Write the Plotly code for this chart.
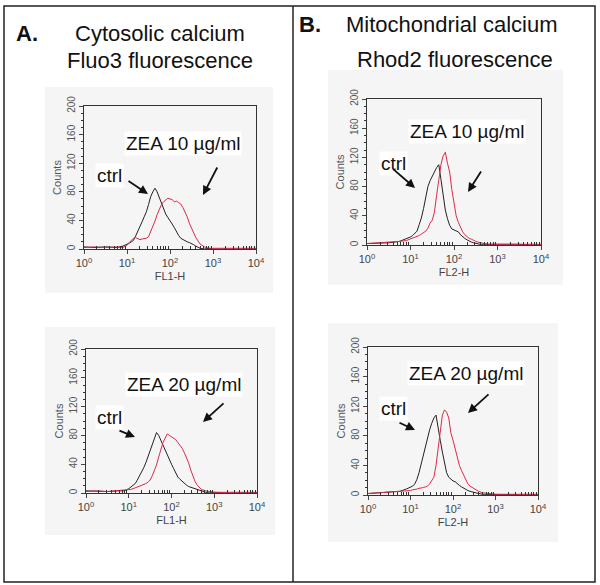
import plotly.graph_objects as go

W, H = 600, 585

# Fluorescence bins (log10 of FL intensity)
fl_exp = [0.0, 0.25, 0.5, 0.75, 0.9,
          1.0, 1.05, 1.1, 1.15, 1.2, 1.25, 1.3, 1.35, 1.4, 1.45, 1.5, 1.55, 1.6, 1.65, 1.7,
          1.75, 1.8, 1.85, 1.9, 1.95, 2.0, 2.05, 2.1, 2.15, 2.2, 2.25, 2.3, 2.35, 2.4, 2.45,
          2.5, 2.55, 2.6,
          2.7, 2.8, 2.9, 3.0, 3.25, 3.5, 3.75, 4.0]

# Panel A top: Fluo3, ZEA 10 ug/ml
a1_ctrl = [3, 2, 3, 2, 4,
           6, 8, 10, 12, 18, 24, 32, 38, 45, 52, 62, 73, 80, 85, 80,
           72, 63, 56, 49, 44, 40, 35, 30, 24, 19, 15, 13, 11, 10, 9,
           8, 6, 4,
           1, 0, 1, 0, 0, 1, 0, 0]
a1_zea = [2, 3, 2, 3, 2,
          5, 9, 12, 15, 16, 14, 13, 14, 14, 15, 17, 24, 32, 39, 48,
          56, 62, 66, 68, 71, 70, 69, 66, 67, 65, 63, 58, 52, 45, 36,
          29, 23, 16,
          7, 3, 1, 1, 1, 1, 1, 1]
# Panel B top: Rhod2, ZEA 10 ug/ml
b1_ctrl = [2, 2, 3, 5, 8,
           11, 13, 16, 19, 28, 37, 50, 65, 80, 88, 95, 100, 106, 110, 90,
           70, 48, 36, 27, 22, 21, 20, 18, 14, 11, 9, 7, 5, 4, 3,
           2, 2, 1,
           1, 1, 2, 1, 1, 1, 0, 0]
b1_zea = [2, 3, 3, 5, 6,
          8, 9, 10, 11, 13, 15, 17, 19, 23, 30, 34, 45, 68, 90, 110,
          122, 127, 112, 100, 76, 56, 40, 31, 24, 18, 14, 11, 9, 8, 6,
          5, 4, 3,
          2, 1, 1, 1, 1, 1, 1, 1]
# Panel A bottom: Fluo3, ZEA 20 ug/ml
a2_ctrl = [3, 2, 2, 3, 3,
           6, 8, 10, 13, 18, 23, 28, 35, 42, 50, 58, 67, 76, 84, 80,
           73, 67, 60, 52, 46, 40, 34, 27, 22, 19, 16, 13, 11, 9, 8,
           7, 5, 4,
           2, 1, 0, 1, 0, 0, 1, 0]
a2_zea = [2, 3, 2, 3, 4,
          4, 5, 6, 7, 8, 9, 10, 12, 13, 15, 18, 24, 31, 39, 50,
          60, 70, 76, 82, 80, 78, 76, 74, 70, 66, 62, 56, 50, 42, 32,
          23, 16, 11,
          5, 3, 2, 1, 1, 1, 1, 1]
# Panel B bottom: Rhod2, ZEA 20 ug/ml
b2_ctrl = [2, 3, 3, 5, 8,
           10, 12, 15, 21, 30, 42, 54, 66, 78, 88, 97, 104, 108, 88, 74,
           58, 42, 30, 24, 21, 19, 18, 15, 13, 11, 9, 7, 6, 5, 4,
           3, 2, 2,
           1, 1, 1, 0, 1, 0, 0, 0]
b2_zea = [2, 3, 3, 4, 5,
          6, 7, 7, 8, 9, 9, 10, 11, 12, 15, 19, 24, 40, 61, 88,
          108, 115, 112, 104, 84, 74, 62, 50, 40, 33, 27, 20, 15, 12, 10,
          8, 6, 5,
          3, 2, 1, 1, 1, 1, 1, 1]

x_tick_vals = [1, 10, 100, 1000, 10000]
x_tick_text = ["10<sup>0</sup>", "10<sup>1</sup>", "10<sup>2</sup>", "10<sup>3</sup>", "10<sup>4</sup>"]
x_minor_vals = [m * d for d in [1, 10, 100, 1000] for m in range(2, 10)]
y_tick_vals = [0, 40, 80, 120, 160, 200]
y_minor_vals = list(range(0, 201, 10))

fl = [10 ** e for e in fl_exp]

panels = [
    # (axis suffix, ctrl, zea, x label, axes box px (x0, x1, ytop, ybottom))
    ("", a1_ctrl, a1_zea, "FL1-H", (84, 256, 106, 249)),
    ("2", b1_ctrl, b1_zea, "FL2-H", (367, 541, 99, 245)),
    ("3", a2_ctrl, a2_zea, "FL1-H", (86, 257, 349, 493)),
    ("4", b2_ctrl, b2_zea, "FL2-H", (368, 538, 347, 495)),
]

fig = go.Figure()
layout = dict(width=W, height=H, margin=dict(l=0, r=0, t=0, b=0, pad=0), autosize=False,
              paper_bgcolor="white", plot_bgcolor="#fdfdfd", showlegend=False,
              font=dict(family="Liberation Sans, Arial, sans-serif", color="#111"))

for suf, ctrl, zea, xlab, (px0, px1, pyt, pyb) in panels:
    xa = "x" + suf
    ya = "y" + suf
    fig.add_trace(go.Scatter(x=fl, y=ctrl, mode="lines", xaxis=xa, yaxis=ya,
                             line=dict(color="#222222", width=1)))
    fig.add_trace(go.Scatter(x=fl, y=zea, mode="lines", xaxis=xa, yaxis=ya,
                             line=dict(color="#e0284a", width=1)))
    layout["xaxis" + suf] = dict(
        domain=[px0 / W, px1 / W], anchor=ya, type="log", range=[0, 4],
        tickvals=x_tick_vals, ticktext=x_tick_text, ticks="outside", ticklen=4,
        tickfont=dict(size=11, color="#444"), automargin=False,
        minor=dict(tickvals=x_minor_vals, ticks="inside", ticklen=3, tickcolor="#333"),
        showline=True, linecolor="#333", linewidth=1, mirror=True, showgrid=False,
        zeroline=False,
        title=dict(text=xlab, font=dict(size=11, color="#444"), standoff=4))
    layout["yaxis" + suf] = dict(
        domain=[1 - pyb / H, 1 - pyt / H], anchor=xa, range=[0, 200],
        tickvals=y_tick_vals, ticks="outside", ticklen=4, tickangle=-90,
        tickfont=dict(size=10, color="#555"), automargin=False,
        minor=dict(tickvals=y_minor_vals, ticks="outside", ticklen=2, tickcolor="#333"),
        showline=True, linecolor="#333", linewidth=1, mirror=True, showgrid=False,
        zeroline=False,
        title=dict(text="Counts", font=dict(size=11, color="#555"), standoff=2))

fig.update_layout(**layout)

def px(x, y):
    return x / W, 1 - y / H

shapes = []
# light grey image backgrounds
for (x0, y0, x1, y1) in [(45, 87, 273, 293), (328, 70, 563, 285),
                         (45, 327, 275, 535), (328, 323, 558, 542)]:
    a = px(x0, y0); b = px(x1, y1)
    shapes.append(dict(type="rect", xref="paper", yref="paper", x0=a[0], y0=b[1],
                       x1=b[0], y1=a[1], fillcolor="#f5f5f5", line=dict(width=0),
                       layer="below"))
# outer frame and divider
a = px(4, 6); b = px(595, 582)
shapes.append(dict(type="rect", xref="paper", yref="paper", x0=a[0], y0=b[1], x1=b[0], y1=a[1],
                   line=dict(color="#222", width=1.5)))
a = px(293, 6); b = px(293, 582)
shapes.append(dict(type="line", xref="paper", yref="paper", x0=a[0], y0=b[1], x1=b[0], y1=a[1],
                   line=dict(color="#222", width=1.5)))
fig.update_layout(shapes=shapes)

ann = []
def text(x, y, s, size, bold=False, anchor="center", bg=None):
    p = px(x, y)
    d = dict(x=p[0], y=p[1], xref="paper", yref="paper", text=("<b>%s</b>" % s) if bold else s,
             showarrow=False, xanchor=anchor, yanchor="middle",
             font=dict(size=size, color="#111"))
    if bg:
        d["bgcolor"] = bg
    ann.append(d)

def arrow(tx, ty, hx, hy):
    p = px(hx, hy)
    ann.append(dict(x=p[0], y=p[1], xref="paper", yref="paper", text="", showarrow=True,
                    ax=tx - hx, ay=ty - hy, arrowhead=2, arrowsize=1, arrowwidth=1.8,
                    arrowcolor="#111"))

text(14, 33, "A.", 22, bold=True, anchor="left")
text(160, 33, "Cytosolic calcium", 22)
text(160, 61, "Fluo3 fluorescence", 22)
text(297, 25, "B.", 22, bold=True, anchor="left")
text(452, 25, "Mitochondrial calcium", 22)
text(455, 60, "Rhod2 fluorescence", 22)

text(183, 143, "ZEA 10 µg/ml", 19, bg="white")
text(110, 175, "ctrl", 19, bg="white")
arrow(127, 180, 148, 194)
arrow(218, 166, 203, 195)

text(467, 132, "ZEA 10 µg/ml", 19, bg="white")
text(393, 163, "ctrl", 19, bg="white")
arrow(392, 168, 415, 188)
arrow(482, 170, 468, 192)

text(184, 384, "ZEA 20 µg/ml", 19, bg="white")
text(110, 417, "ctrl", 19, bg="white")
arrow(118, 430, 135, 437)
arrow(225, 402, 203, 422)

text(466, 373, "ZEA 20 µg/ml", 19, bg="white")
text(393, 408, "ctrl", 19, bg="white")
arrow(398, 422, 415, 430)
arrow(490, 393, 468, 413)

fig.update_layout(annotations=ann)

fig.write_html("out.html",
               config={"displayModeBar": False, "responsive": False},
               post_script="document.body.style.margin='0';"
                           "document.body.style.overflow='hidden';"
                           "document.documentElement.style.overflow='hidden';"
                           "var gd=document.getElementById('{plot_id}');"
                           "gd.style.position='fixed';gd.style.left='0px';gd.style.top='0px';")
